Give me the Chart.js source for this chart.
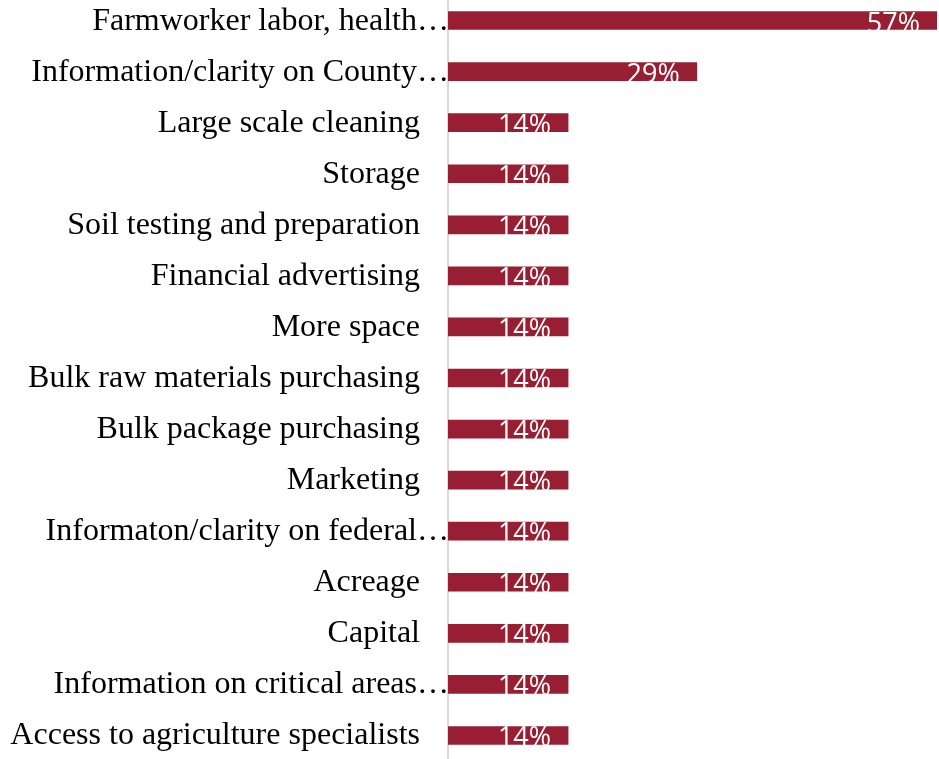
<!DOCTYPE html>
<html>
<head>
<meta charset="utf-8">
<script src="https://cdn.jsdelivr.net/npm/chart.js@4.4.0/dist/chart.umd.min.js"></script>
<style>
  html, body { margin: 0; padding: 0; background: #ffffff; overflow: hidden; }
  #wrap { position: absolute; left: 0; top: -5px; width: 939px; height: 766px; }
</style>
</head>
<body>
<div id="wrap"><canvas id="chart"></canvas></div>
<script>
// Categories, top to bottom
const categories = [
  "Farmworker labor, health…",
  "Information/clarity on County…",
  "Large scale cleaning",
  "Storage",
  "Soil testing and preparation",
  "Financial advertising",
  "More space",
  "Bulk raw materials purchasing",
  "Bulk package purchasing",
  "Marketing",
  "Informaton/clarity on federal…",
  "Acreage",
  "Capital",
  "Information on critical areas…",
  "Access to agriculture specialists"
];

// Share of respondents (%)
const shares = [57, 29, 14, 14, 14, 14, 14, 14, 14, 14, 14, 14, 14, 14, 14];

// Category labels drawn at the left of the axis; shortened labels run up to the axis line
const categoryLabels = {
  id: 'categoryLabels',
  afterDraw(chart) {
    const ctx = chart.ctx;
    const yScale = chart.scales.y;
    const axisX = chart.chartArea.left;
    ctx.save();
    ctx.font = '32px "Liberation Serif", "Times New Roman", serif';
    ctx.fillStyle = '#000000';
    ctx.textAlign = 'right';
    ctx.textBaseline = 'alphabetic';
    categories.forEach((label, i) => {
      const y = yScale.getPixelForValue(i) + 9;
      const x = label.endsWith('…') ? axisX + 1 : axisX - 28;
      ctx.fillText(label, x, y);
    });
    ctx.restore();
  }
};

// Percentage labels inside the end of each bar
const valueLabels = {
  id: 'valueLabels',
  afterDatasetsDraw(chart) {
    const ctx = chart.ctx;
    const meta = chart.getDatasetMeta(0);
    ctx.save();
    ctx.font = '27px "Open Sans", sans-serif';
    ctx.fillStyle = '#ffffff';
    ctx.textAlign = 'right';
    ctx.textBaseline = 'alphabetic';
    meta.data.forEach((bar, i) => {
      ctx.fillText(shares[i] + '%', bar.x - 17, bar.y + 11);
    });
    ctx.restore();
  }
};

new Chart(document.getElementById('chart'), {
  type: 'bar',
  data: {
    labels: categories,
    datasets: [{
      data: shares,
      backgroundColor: '#981f33',
      borderWidth: 0,
      barThickness: 18
    }]
  },
  options: {
    indexAxis: 'y',
    responsive: true,
    maintainAspectRatio: false,
    animation: false,
    layout: { padding: { top: 0, bottom: 0, left: 0, right: 2 } },
    plugins: {
      legend: { display: false },
      tooltip: { enabled: false }
    },
    scales: {
      x: {
        min: 0,
        max: 57,
        display: false
      },
      y: {
        grid: { display: false, drawTicks: false },
        border: { display: true, color: '#d9d9d9', width: 2 },
        ticks: { display: false },
        afterFit(scale) { scale.width = 448; }
      }
    }
  },
  plugins: [categoryLabels, valueLabels]
});
</script>
</body>
</html>
